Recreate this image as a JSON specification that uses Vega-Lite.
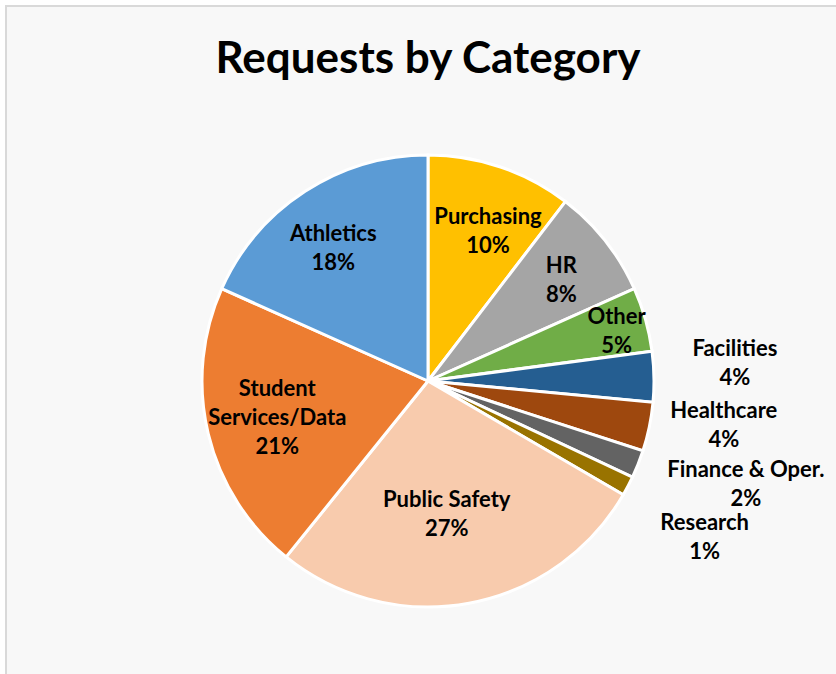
{
  "$schema": "https://vega.github.io/schema/vega-lite/v6.json",
  "autosize": {"type": "none"},
  "padding": {"left": 6, "top": 6, "right": 0, "bottom": 0},
  "width": 844,
  "height": 750,
  "background": "white",
  "view": {"fill": "#f8f8f8", "stroke": "#d9d9d9", "strokeWidth": 2},
  "title": {"text": "Requests by Category", "font": "Lato", "fontSize": 44, "fontWeight": "bold", "color": "black", "anchor": "middle", "frame": "group", "baseline": "alphabetic", "offset": 0, "dy": 111},
  "data": {"values": [
    {"order": 1, "name": "Purchasing", "label": "Purchasing", "value": 10.4},
    {"order": 2, "name": "HR", "label": "HR", "value": 7.9},
    {"order": 3, "name": "Other", "label": "Other", "value": 4.6},
    {"order": 4, "name": "Facilities", "label": "Facilities", "value": 3.6},
    {"order": 5, "name": "Healthcare", "label": "Healthcare", "value": 3.5},
    {"order": 6, "name": "Finance & Oper.", "label": "Finance & Oper.", "value": 2.0},
    {"order": 7, "name": "Research", "label": "Research", "value": 1.4},
    {"order": 8, "name": "Public Safety", "label": "Public Safety", "value": 27.4},
    {"order": 9, "name": "Student Services/Data", "label": "Student\nServices/Data", "value": 20.9},
    {"order": 10, "name": "Athletics", "label": "Athletics", "value": 18.3}
  ]},
  "transform": [
    {"stack": "value", "groupby": [], "sort": [{"field": "order", "order": "ascending"}], "as": ["t0", "t1"]},
    {"calculate": "(datum.t0 + datum.t1) / 2", "as": "tm"},
    {"calculate": "datum.label + '\\n' + round(datum.value) + '%'", "as": "txt"}
  ],
  "layer": [
    {
      "mark": {"type": "arc", "outerRadius": 226, "stroke": "white", "strokeWidth": 3},
      "encoding": {
        "theta": {"field": "t0", "type": "quantitative", "scale": {"domain": [0, 100]}},
        "theta2": {"field": "t1"},
        "color": {"field": "name", "type": "nominal", "legend": null,
          "scale": {"domain": ["Purchasing", "HR", "Other", "Facilities", "Healthcare", "Finance & Oper.", "Research", "Public Safety", "Student Services/Data", "Athletics"],
                    "range": ["#FFC000", "#A5A5A5", "#70AD47", "#255E91", "#9E480E", "#636363", "#997300", "#F8CBAD", "#ED7D31", "#5B9BD5"]}}
      }
    },
    {"transform": [{"filter": "datum.name == 'Purchasing'"}],
     "mark": {"type": "text", "radius": 162, "dx": 8, "dy": -11, "font": "Lato", "fontSize": 22, "fontWeight": "bold", "color": "black", "lineBreak": "\n", "lineHeight": 29, "baseline": "middle", "align": "center"},
     "encoding": {"theta": {"field": "tm", "type": "quantitative", "scale": {"domain": [0, 100]}}, "text": {"field": "txt"}}},
    {"transform": [{"filter": "datum.name == 'HR'"}],
     "mark": {"type": "text", "radius": 170, "dy": -10, "font": "Lato", "fontSize": 22, "fontWeight": "bold", "color": "black", "lineBreak": "\n", "lineHeight": 29, "baseline": "middle", "align": "center"},
     "encoding": {"theta": {"field": "tm", "type": "quantitative", "scale": {"domain": [0, 100]}}, "text": {"field": "txt"}}},
    {"transform": [{"filter": "datum.name == 'Other'"}],
     "mark": {"type": "text", "radius": 196, "dy": -11, "font": "Lato", "fontSize": 22, "fontWeight": "bold", "color": "black", "lineBreak": "\n", "lineHeight": 29, "baseline": "middle", "align": "center"},
     "encoding": {"theta": {"field": "tm", "type": "quantitative", "scale": {"domain": [0, 100]}}, "text": {"field": "txt"}}},
    {"transform": [{"filter": "datum.name == 'Facilities'"}],
     "mark": {"type": "text", "radius": 307, "dy": -26, "font": "Lato", "fontSize": 22, "fontWeight": "bold", "color": "black", "lineBreak": "\n", "lineHeight": 29, "baseline": "middle", "align": "center"},
     "encoding": {"theta": {"field": "tm", "type": "quantitative", "scale": {"domain": [0, 100]}}, "text": {"field": "txt"}}},
    {"transform": [{"filter": "datum.name == 'Healthcare'"}],
     "mark": {"type": "text", "radius": 299, "dx": 3, "dy": -31, "font": "Lato", "fontSize": 22, "fontWeight": "bold", "color": "black", "lineBreak": "\n", "lineHeight": 29, "baseline": "middle", "align": "center"},
     "encoding": {"theta": {"field": "tm", "type": "quantitative", "scale": {"domain": [0, 100]}}, "text": {"field": "txt"}}},
    {"transform": [{"filter": "datum.name == 'Finance & Oper.'"}],
     "mark": {"type": "text", "radius": 330, "dx": 11, "dy": -32, "font": "Lato", "fontSize": 22, "fontWeight": "bold", "color": "black", "lineBreak": "\n", "lineHeight": 29, "baseline": "middle", "align": "center"},
     "encoding": {"theta": {"field": "tm", "type": "quantitative", "scale": {"domain": [0, 100]}}, "text": {"field": "txt"}}},
    {"transform": [{"filter": "datum.name == 'Research'"}],
     "mark": {"type": "text", "radius": 317, "dx": -4, "dy": -5, "font": "Lato", "fontSize": 22, "fontWeight": "bold", "color": "black", "lineBreak": "\n", "lineHeight": 29, "baseline": "middle", "align": "center"},
     "encoding": {"theta": {"field": "tm", "type": "quantitative", "scale": {"domain": [0, 100]}}, "text": {"field": "txt"}}},
    {"transform": [{"filter": "datum.name == 'Public Safety'"}],
     "mark": {"type": "text", "radius": 131, "dx": -5, "dy": -10, "font": "Lato", "fontSize": 22, "fontWeight": "bold", "color": "black", "lineBreak": "\n", "lineHeight": 29, "baseline": "middle", "align": "center"},
     "encoding": {"theta": {"field": "tm", "type": "quantitative", "scale": {"domain": [0, 100]}}, "text": {"field": "txt"}}},
    {"transform": [{"filter": "datum.name == 'Student Services/Data'"}],
     "mark": {"type": "text", "radius": 155, "dy": -28, "font": "Lato", "fontSize": 22, "fontWeight": "bold", "color": "black", "lineBreak": "\n", "lineHeight": 29, "baseline": "middle", "align": "center"},
     "encoding": {"theta": {"field": "tm", "type": "quantitative", "scale": {"domain": [0, 100]}}, "text": {"field": "txt"}}},
    {"transform": [{"filter": "datum.name == 'Athletics'"}],
     "mark": {"type": "text", "radius": 165, "dx": -5, "dy": -9, "font": "Lato", "fontSize": 22, "fontWeight": "bold", "color": "black", "lineBreak": "\n", "lineHeight": 29, "baseline": "middle", "align": "center"},
     "encoding": {"theta": {"field": "tm", "type": "quantitative", "scale": {"domain": [0, 100]}}, "text": {"field": "txt"}}}
  ]
}
